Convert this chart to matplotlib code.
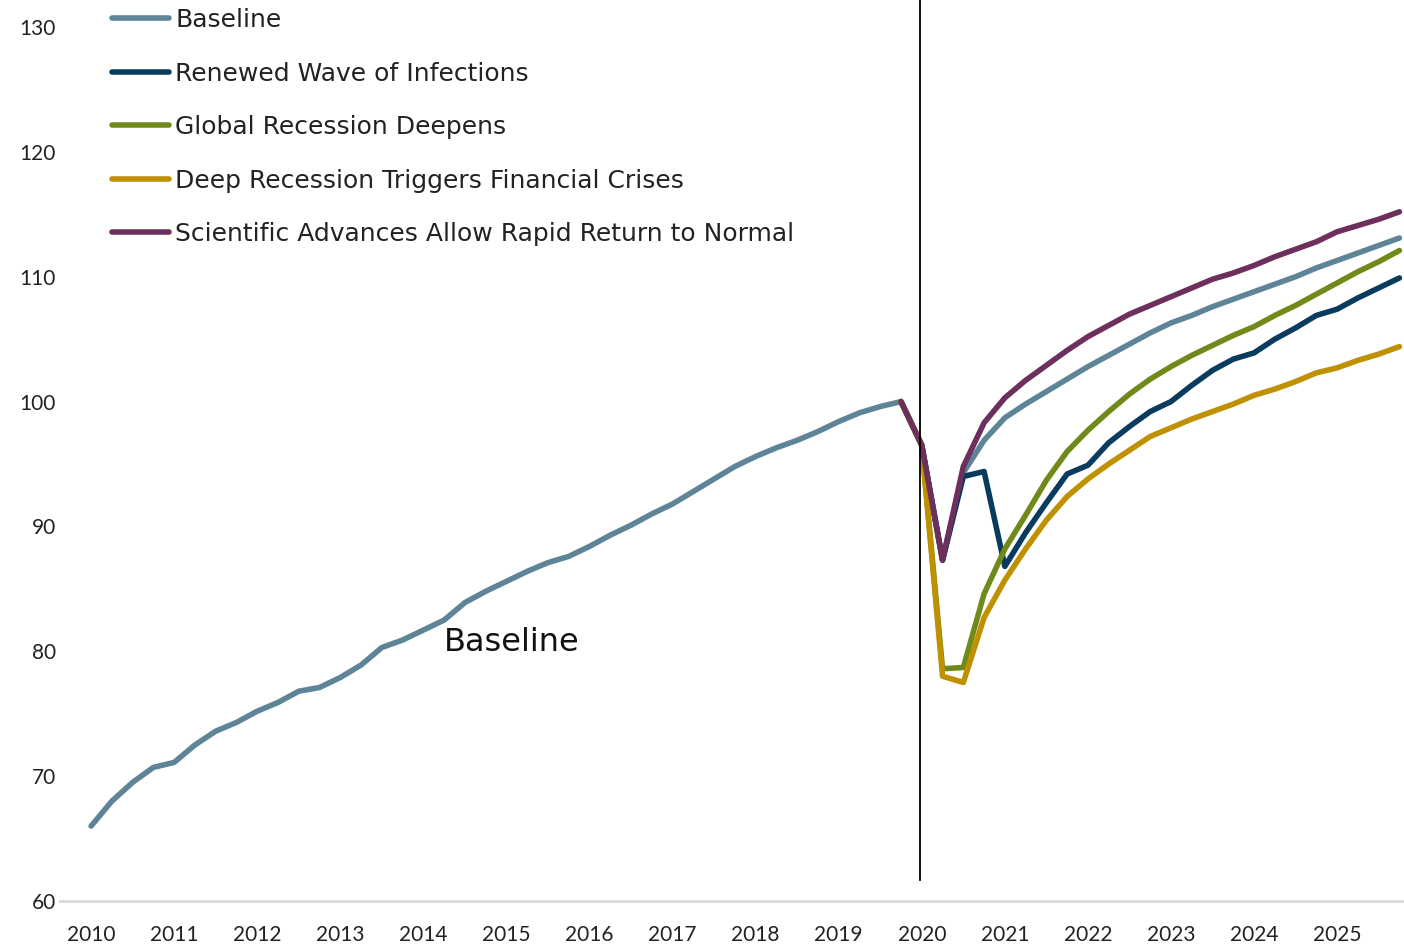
import numpy as np
import matplotlib
matplotlib.use("Agg")
import matplotlib.pyplot as plt

plt.rcParams['font.family'] = ['Lato', 'DejaVu Sans']

# quarterly index 2010Q1 .. 2025Q4
years = list(range(2010, 2026))
nan = np.nan

baseline = [66.0, 68.0, 69.5, 70.7, 71.1, 72.5, 73.6, 74.3, 75.2, 75.9,
            76.8, 77.1, 77.9, 78.9, 80.3, 80.9, 81.7, 82.5, 83.9, 84.8,
            85.6, 86.4, 87.1, 87.6, 88.4, 89.3, 90.1, 91.0, 91.8, 92.8,
            93.8, 94.8, 95.6, 96.3, 96.9, 97.6, 98.4, 99.1, 99.6, 100.0,
            96.5, 87.3, 94.3, 96.9, 98.7, 99.8, 100.8, 101.8, 102.8, 103.7,
            104.6, 105.5, 106.3, 106.9, 107.6, 108.2, 108.8, 109.4, 110.0, 110.7,
            111.3, 111.9, 112.5, 113.1]

renewed = [nan] * 39 + [100.0, 96.5, 87.3, 94.0, 94.4, 86.8, 89.5, 91.9, 94.2,
                        94.9, 96.7, 98.0, 99.2, 100.0, 101.3, 102.5, 103.4, 103.9,
                        105.0, 105.9, 106.9, 107.4, 108.3, 109.1, 109.9]

recession = [nan] * 39 + [100.0, 96.5, 78.6, 78.7, 84.6, 88.2, 90.9, 93.7, 96.0,
                          97.7, 99.2, 100.6, 101.8, 102.8, 103.7, 104.5, 105.3, 106.0,
                          106.9, 107.7, 108.6, 109.5, 110.4, 111.2, 112.1]

crises = [nan] * 39 + [100.0, 96.5, 78.0, 77.5, 82.7, 85.7, 88.2, 90.5, 92.4,
                       93.8, 95.0, 96.1, 97.2, 97.9, 98.6, 99.2, 99.8, 100.5,
                       101.0, 101.6, 102.3, 102.7, 103.3, 103.8, 104.4]

advances = [nan] * 39 + [100.0, 96.5, 87.3, 94.8, 98.3, 100.3, 101.7, 102.9, 104.1,
                         105.2, 106.1, 107.0, 107.7, 108.4, 109.1, 109.8, 110.3, 110.9,
                         111.6, 112.2, 112.8, 113.6, 114.1, 114.6, 115.2]

labels = ["Baseline", "Renewed Wave of Infections", "Global Recession Deepens",
          "Deep Recession Triggers Financial Crises",
          "Scientific Advances Allow Rapid Return to Normal"]
colors = ["#5E8498", "#083B5E", "#708A1A", "#BF9000", "#6D2F5C"]

x = np.arange(len(baseline))

fig = plt.figure(figsize=(14.04, 9.51), dpi=100)
ax = fig.add_axes([0.0427, 0.0526, 0.957, 0.919])

for s, lab, c in zip([baseline, renewed, recession, crises, advances], labels, colors):
    ax.plot(x, s, color=c, lw=4, label=lab, solid_capstyle='round')

ax.axvline(39.9, ymin=0.024, ymax=1.04, color='black', lw=1.3, clip_on=False)

ax.text(17.0, 80.7, "Baseline", fontsize=23, ha='left', va='center',
        family='DejaVu Sans', color='#111111')

ax.set_xlim(-1.5, 63.2)
ax.set_ylim(60, 130)
ax.set_yticks(range(60, 131, 10))
ax.set_xticks(np.arange(0, 64, 4))
ax.set_xticklabels([str(y) for y in years])
for sp in ['top', 'right', 'left']:
    ax.spines[sp].set_visible(False)
ax.spines['bottom'].set_color('#d9d9d9')
ax.spines['bottom'].set_linewidth(2)
ax.tick_params(axis='both', length=0, labelsize=15, colors='#222222')
ax.tick_params(axis='x', pad=17)
ax.tick_params(axis='y', pad=3)

leg = ax.legend(loc='upper left', bbox_to_anchor=(0.031, 1.033), frameon=False,
                prop={'family': 'DejaVu Sans', 'size': 18},
                handlelength=2.3, handletextpad=0.25,
                labelspacing=1.18, borderaxespad=0)
for t in leg.get_texts():
    t.set_color('#222222')

fig.savefig("out.png", dpi=100)
